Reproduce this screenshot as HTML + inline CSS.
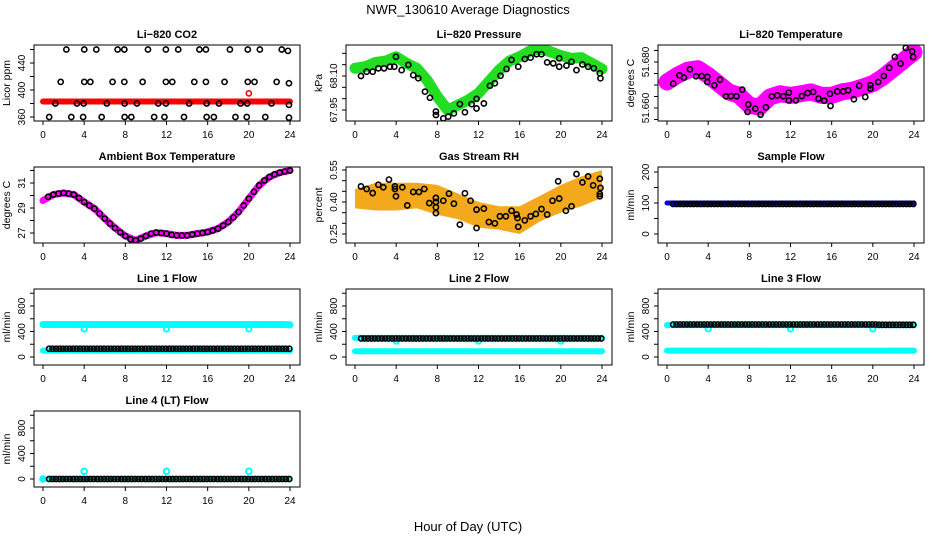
<!DOCTYPE html>
<html><head><meta charset="utf-8">
<style>
body{margin:0;background:#fff;}
svg{display:block;font-family:"Liberation Sans",sans-serif;}
</style></head>
<body>
<svg id="chart" width="936" height="540" viewBox="0 0 936 540">
<rect width="936" height="540" fill="#fff"/>
<text x="468" y="14" text-anchor="middle" font-size="13">NWR_130610  Average Diagnostics</text>
<text x="468" y="531" text-anchor="middle" font-size="13">Hour of Day (UTC)</text>
</svg>
<script>
// ---------- data ----------
const xTicks = [0,4,8,12,16,20,24];
const thirds = [0,1/3,2/3];
const hours = [0,1,2,3,4,5,6,7,8,9,10,11,12,13,14,15,16,17,18,19,20,21,22,23,24];

// CO2
const co2Red = [383,383,383,383,383,383,383,383,383,383,383,383,383,383,383,383,383,383,383,383,383,383,383,383,383];
const co2OutH = [20.0]; const co2OutV = [395];
const co2BlkH = [2.27,4.01,5.18,7.25,7.9,10.2,11.94,13.14,15.2,15.83,18.16,19.9,21.07,23.2,23.8,
 1.72,4.01,4.6,6.76,7.9,9.68,11.94,12.56,14.7,15.83,17.64,19.9,20.55,22.7,23.9,
 1.2,3.3,3.95,6.2,7.93,9.13,11.2,11.94,14.2,15.9,17.1,19.2,19.84,22.2,23.9,
 0.6,2.75,3.9,5.7,7.93,8.58,10.8,11.8,13.7,15.9,16.6,18.7,19.8,21.6,23.9];
const co2BlkV = [460,460,460,460,460,460,460,460,460,460,460,460,460,460,458,
 412,412,412,412,412,412,412,412,412,412,412,412,412,412,410,
 380,380,380,380,380,380,380,380,380,380,380,380,380,380,378,
 360,360,360,360,360,360,360,360,360,360,360,360,360,360,359];

// Pressure
const presGreen = [68.134,68.141,68.160,68.166,68.185,68.156,68.134,68.082,68.009,67.950,67.972,67.994,68.024,68.075,68.126,68.166,68.185,68.210,68.219,68.207,68.190,68.178,68.181,68.156,68.131];
const presBlkH = [.58,1.13,1.72,2.27,2.82,3.40,3.82,3.98,4.53,5.18,5.66,6.15,6.80,7.28,7.86,7.86,8.58,9.06,9.61,10.19,10.68,11.33,11.81,11.81,12.52,13.11,13.59,14.14,14.72,15.21,15.86,16.50,17.06,17.64,18.12,18.67,19.26,19.84,19.84,20.55,21.04,21.52,22.10,22.65,23.20,23.79,23.85];
const presBlkV = [68.100,68.119,68.119,68.134,68.134,68.141,68.141,68.185,68.126,68.149,68.104,68.090,68.031,68.004,67.943,67.928,67.913,67.921,67.935,67.976,67.940,67.976,67.957,67.999,67.979,68.057,68.068,68.101,68.131,68.171,68.141,68.175,68.181,68.196,68.196,68.160,68.156,68.178,68.141,68.146,68.163,68.126,68.151,68.141,68.134,68.112,68.090];

// Li-820 Temperature
const tempMag = [51.6713,51.6742,51.6764,51.6771,51.6742,51.6706,51.6670,51.6655,51.6612,51.6604,51.6648,51.6662,51.6655,51.6662,51.6670,51.6655,51.6655,51.6670,51.6677,51.6691,51.6706,51.6735,51.6771,51.6807,51.6843];
const tempBlkH = [.61,1.20,1.65,2.23,2.82,3.37,3.92,3.92,4.60,5.15,5.73,6.21,6.76,7.31,7.90,7.83,8.58,9.09,9.61,10.19,10.71,11.29,11.84,11.84,12.52,13.11,13.66,14.21,14.72,15.28,15.83,15.89,16.54,17.12,17.61,18.16,18.67,19.26,19.77,19.77,20.52,21.07,21.59,22.14,22.69,23.20,23.82,23.92];
const tempBlkV = [51.6706,51.6742,51.6732,51.6768,51.6738,51.6739,51.6735,51.6713,51.6699,51.6723,51.6651,51.6652,51.6651,51.6680,51.6615,51.6583,51.6597,51.6571,51.6603,51.6651,51.6655,51.6651,51.6667,51.6633,51.6633,51.6652,51.6665,51.6670,51.6641,51.6632,51.6662,51.6609,51.6672,51.6672,51.6677,51.6638,51.6697,51.6648,51.6699,51.6684,51.6713,51.6739,51.6775,51.6822,51.6793,51.6861,51.6846,51.6822];

// Ambient
const ambMag = [29.6,30.07,30.2,30.07,29.48,28.95,28.15,27.4,26.76,26.41,26.76,27.03,26.95,26.81,26.81,26.95,27.08,27.35,27.88,28.68,29.75,30.81,31.48,31.83,32.0];
const ambBlkH = [0.5,1,1.5,2,2.5,3,3.5,4,4.5,5,5.5,6,6.5,7,7.5,8,8.5,9,9.5,10,10.5,11,11.5,12,12.5,13,13.5,14,14.5,15,15.5,16,16.5,17,17.5,18,18.5,19,19.5,20,20.5,21,21.5,22,22.5,23,23.5,24];
const ambBlkV = [29.9,30.07,30.15,30.2,30.15,30.07,29.8,29.48,29.2,28.95,28.55,28.15,27.75,27.4,27.05,26.76,26.5,26.41,26.55,26.76,26.95,27.03,27.0,26.95,26.85,26.81,26.8,26.81,26.88,26.95,27.0,27.08,27.2,27.35,27.6,27.88,28.25,28.68,29.2,29.75,30.3,30.81,31.2,31.48,31.7,31.83,31.92,32.0];

// RH
const rhBandH = [0,2,4,6,8,10,12,14,16,18,20,22,24];
const rhUpper = [.46,.49,.49,.49,.48,.44,.40,.38,.38,.43,.48,.52,.55];
const rhLower = [.37,.36,.36,.37,.34,.32,.28,.27,.25,.31,.35,.38,.42];
const rhBlkH = [.58,1.13,1.72,2.27,2.75,3.30,3.88,3.88,3.98,4.60,5.08,5.66,6.21,6.73,7.22,7.86,7.86,7.86,7.86,8.58,9.13,9.61,10.19,10.68,11.23,11.81,11.81,12.52,13.01,13.59,14.08,14.66,15.21,15.70,15.79,15.86,16.50,17.06,17.57,18.12,18.67,19.19,19.74,19.84,20.49,21.04,21.52,22.10,22.65,23.14,23.79,23.85,23.79,23.79];
const rhBlkV = [.473,.461,.442,.481,.469,.505,.473,.461,.427,.469,.384,.447,.447,.461,.395,.419,.400,.375,.348,.406,.439,.392,.294,.441,.406,.364,.278,.369,.306,.300,.333,.333,.359,.341,.325,.284,.314,.333,.344,.367,.341,.406,.497,.416,.359,.380,.531,.492,.520,.478,.509,.466,.438,.427];

// Flows (hourly levels)
const sampBlue = [100,100,100,100,100,100,100,100,100,100,100,100,100,100,100,100,100,100,100,100,100,100,100,100,100];
const sampBlk  = [97,97,97,97,97,97,97,97,97,97,97,97,97,97,97,97,97,97,97,97,97,97,97,97];
const l1High = [510,510,510,510,510,510,510,510,510,510,510,510,510,510,510,510,510,510,510,510,510,510,510,510,505];
const l1Low  = [100,100,100,100,100,100,100,100,100,100,100,100,100,100,100,100,100,100,100,100,100,100,100,100,100];
const l1Blk  = [130,130,130,130,130,130,130,130,130,130,130,130,130,130,130,130,130,130,130,130,130,130,130,130];
const l2High = [300,300,300,300,300,300,300,300,300,300,300,300,300,300,300,300,300,300,300,300,300,300,300,300,300];
const l2Low  = [90,90,90,90,90,90,90,90,90,90,90,90,90,90,90,90,90,90,90,90,90,90,90,90,90];
const l2Blk  = [290,290,290,290,290,290,290,290,290,290,290,290,290,290,290,290,290,290,290,290,290,290,290,290];
const l3High = [500,500,500,500,500,500,500,500,500,500,500,500,500,500,500,500,500,500,500,500,500,500,500,500,500];
const l3Low  = [100,100,100,100,100,100,100,100,100,100,100,100,100,100,100,100,100,100,100,100,100,100,100,100,100];
const l3Blk  = [510,510,510,510,510,510,510,510,510,510,510,510,510,510,510,510,510,510,510,510,505,505,505,505];
const l4Cyan = [0,0,0,0,0,0,0,0,0,0,0,0,0,0,0,0,0,0,0,0,0,0,0,0,0];
const l4Blk  = [0,0,0,0,0,0,0,0,0,0,0,0,0,0,0,0,0,0,0,0,0,0,0,0];
const dipH = [4,12,20];
const l1Dip = [440,440,440];
const l2Dip = [250,250,250];
const l3Dip = [440,440,440];
const l4SpikeH = [0,4,12,20];
const l4Spike = [0,120,120,120];

// ---------- drawing ----------
const svg = document.getElementById('chart');
const NS = 'http://www.w3.org/2000/svg';
function mk(tag, attrs, parent){
  const e = document.createElementNS(NS, tag);
  for (const k in attrs) e.setAttribute(k, attrs[k]);
  (parent||svg).appendChild(e);
  return e;
}
const colL = [34,346,658], rowT = [45,167,289,411], W = 266, H = 76;

function makePanel(col,row,title,ylab,vA,pA,vB,pB,ticks,labels,name){
  const L = colL[col], T = rowT[row] + 0, B = T + H, R = L + W;
  const g = mk('g',{});
  
  
  const x = h => L + 9 + h * (W - 19) / 24;
  const off = rowT[row] - rowT[row % 2 === 0 ? row : row]; // abs pixel refs given per row
  const y = v => pA + (v - vA) * (pB - pA) / (vB - vA);
  const clip = mk('clipPath',{id:'c'+name},g);
  mk('rect',{x:L,y:T,width:W,height:H},clip);
  const plot = mk('g',{'clip-path':'url(#c'+name+')'},g);
  
  
  const t = mk('text',{x:L+W/2,y:T-7,'text-anchor':'middle','font-size':'11','font-weight':'bold'},g);
  t.textContent = title;
  
  
  // x axis
  xTicks.forEach(h=>{
    mk('line',{x1:x(h),x2:x(h),y1:B,y2:B+4,stroke:'#000','stroke-width':1},g);
    const tl = mk('text',{x:x(h),y:B+17,'text-anchor':'middle','font-size':'10'},g);
    tl.textContent = h;
    
    
  });
  // y axis
  ticks.forEach(v=>{
    mk('line',{x1:L-4,x2:L,y1:y(v),y2:y(v),stroke:'#000','stroke-width':1},g);
  });
  labels.forEach(v=>{
    const yl = mk('text',{x:0,y:0,'text-anchor':'middle','font-size':'10',transform:'translate('+(L-9)+','+y(v)+') rotate(-90)'},g);
    yl.textContent = typeof v === 'number' && v % 1 ? (String(v).length < 5 && v < 1 ? v.toFixed(2) : String(v).length<7 && v>50 && v<60 ? v.toFixed(3) : v.toFixed(2)) : v;
    
    
  });
  const at = mk('text',{x:0,y:0,'text-anchor':'middle','font-size':'10.5',transform:'translate('+(L-24)+','+(T+H/2)+') rotate(-90)'},g);
  at.textContent = ylab;
  
  
  mk('rect',{x:L,y:T,width:W,height:H,fill:'none',stroke:'#000','stroke-width':1},g);
  return {x,y,plot,g};
}
function band(p,hs,vs,color,w,name){
  const pts = hs.map((h,i)=>p.x(h)+','+p.y(vs[i])).join(' ');
  const e = mk('polyline',{points:pts,fill:'none',stroke:color,'stroke-width':w,'stroke-linejoin':'round','stroke-linecap':'round'},p.plot);
  
  
}
function area(p,hs,up,lo,color,name){
  const a = hs.map((h,i)=>p.x(h)+','+p.y(up[i]));
  const b = hs.map((h,i)=>p.x(h)+','+p.y(lo[i])).reverse();
  const e = mk('polygon',{points:a.concat(b).join(' '),fill:color},p.plot);
  
  
}
function pts(p,hs,vs,color,name,r,sw){
  hs.forEach((h,i)=>{
    const c = mk('circle',{cx:p.x(h),cy:p.y(vs[i]),r:r||2.6,fill:'none',stroke:color,'stroke-width':sw||1.6},p.plot);
    
    
  });
}
function stepPts(p,vals,color,name){
  vals.forEach((v,i)=>{
    thirds.forEach(f=>{
      const h = i + 0.6 + f;
      if (h > 24) return;
      const c = mk('circle',{cx:p.x(h),cy:p.y(v),r:2.6,fill:'none',stroke:color,'stroke-width':1.6},p.plot);
      
      
    });
  });
}

// Row 1
let p = makePanel(0,0,'Li−820 CO2','Licor ppm',360,117,440,63,[360,380,400,420,440,460],[360,400,440],'co2');
band(p,hours,co2Red,'#ff0000',6,'co2-red-series');
pts(p,co2OutH,co2OutV,'#ff0000','co2-red-outlier');
pts(p,co2BlkH,co2BlkV,'#000','co2-black-point');

p = makePanel(1,0,'Li−820 Pressure','kPa',67.95,110,68.10,76,[67.95,68.00,68.05,68.10,68.15,68.20],[67.95,68.10],'pressure');
band(p,hours,presGreen,'#22dd22',11,'pressure-green-series');
pts(p,presBlkH,presBlkV,'#000','pressure-black-point');

p = makePanel(2,0,'Li−820 Temperature','degrees C',51.66,108,51.68,62,[51.655,51.66,51.665,51.67,51.675,51.68,51.685],[51.66,51.68],'li820-temperature');
band(p,hours,tempMag,'#ff00ff',17,'temperature-magenta-series');
pts(p,tempBlkH,tempBlkV,'#000','temperature-black-point');

// Row 2
p = makePanel(0,1,'Ambient Box Temperature','degrees C',27,233,31,183,[27,28,29,30,31,32],[27,29,31],'ambient');
band(p,hours,ambMag,'#ff00ff',7,'ambient-magenta-series');
pts(p,ambBlkH,ambBlkV,'#000','ambient-black-point');

p = makePanel(1,1,'Gas Stream RH','percent',0.25,234,0.55,170,[0.25,0.30,0.35,0.40,0.45,0.50,0.55],[0.25,0.40,0.55],'rh');
area(p,rhBandH,rhUpper,rhLower,'#f4a81c','rh-orange-series');
pts(p,rhBlkH,rhBlkV,'#000','rh-black-point');

p = makePanel(2,1,'Sample Flow','ml/min',0,234,200,172,[0,50,100,150,200],[0,100,200],'sample-flow');
band(p,hours,sampBlue,'#0000ff',5,'sample-flow-blue-series');
stepPts(p,sampBlk,'#000','sample-flow-black-point');

// Row 3
const fT=[0,200,400,600,800,1000], fL=[0,400,800];
p = makePanel(0,2,'Line 1 Flow','ml/min',0,357,800,306,fT,fL,'line1-flow');
band(p,hours,l1High,'#00ffff',7,'line1-cyan-high');
band(p,hours,l1Low,'#00ffff',6,'line1-cyan-low');
pts(p,dipH,l1Dip,'#00ffff','line1-cyan-dip',2.6,2);
stepPts(p,l1Blk,'#000','line1-black-point');

p = makePanel(1,2,'Line 2 Flow','ml/min',0,357,800,306,fT,fL,'line2-flow');
band(p,hours,l2High,'#00ffff',6,'line2-cyan-high');
band(p,hours,l2Low,'#00ffff',6,'line2-cyan-low');
pts(p,dipH,l2Dip,'#00ffff','line2-cyan-dip',2.6,2);
stepPts(p,l2Blk,'#000','line2-black-point');

p = makePanel(2,2,'Line 3 Flow','ml/min',0,357,800,306,fT,fL,'line3-flow');
band(p,hours,l3High,'#00ffff',6,'line3-cyan-high');
band(p,hours,l3Low,'#00ffff',6,'line3-cyan-low');
pts(p,dipH,l3Dip,'#00ffff','line3-cyan-dip',2.6,2);
stepPts(p,l3Blk,'#000','line3-black-point');

// Row 4
p = makePanel(0,3,'Line 4 (LT) Flow','ml/min',0,479,800,428,fT,fL,'line4-flow');
band(p,hours,l4Cyan,'#00ffff',5,'line4-cyan-series');
pts(p,l4SpikeH,l4Spike,'#00ffff','line4-cyan-spike',2.8,2);
stepPts(p,l4Blk,'#000','line4-black-point');
</script>
</body></html>
